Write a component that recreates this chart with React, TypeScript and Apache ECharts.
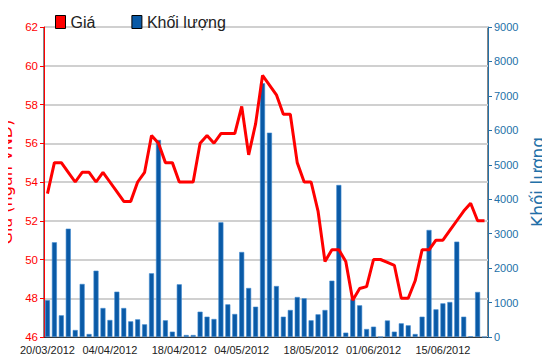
import React, { useEffect, useRef } from "react";
import * as echarts from "echarts";

const dates = [
  "20/03/2012", "21/03/2012", "22/03/2012", "23/03/2012", "26/03/2012", "27/03/2012", "28/03/2012", "29/03/2012", "30/03/2012", "04/04/2012",
  "05/04/2012", "06/04/2012", "09/04/2012", "10/04/2012", "11/04/2012", "12/04/2012", "13/04/2012", "16/04/2012", "17/04/2012", "18/04/2012",
  "19/04/2012", "20/04/2012", "23/04/2012", "24/04/2012", "25/04/2012", "26/04/2012", "27/04/2012", "03/05/2012", "04/05/2012", "07/05/2012",
  "08/05/2012", "09/05/2012", "10/05/2012", "11/05/2012", "14/05/2012", "15/05/2012", "16/05/2012", "17/05/2012", "18/05/2012", "21/05/2012",
  "22/05/2012", "23/05/2012", "24/05/2012", "25/05/2012", "28/05/2012", "29/05/2012", "31/05/2012", "01/06/2012", "04/06/2012", "05/06/2012",
  "06/06/2012", "07/06/2012", "08/06/2012", "11/06/2012", "12/06/2012", "13/06/2012", "14/06/2012", "15/06/2012", "18/06/2012", "19/06/2012",
  "20/06/2012", "21/06/2012", "22/06/2012", "25/06/2012",
];

const labelDates = ["20/03/2012", "04/04/2012", "18/04/2012", "04/05/2012", "18/05/2012", "01/06/2012", "15/06/2012"];

const prices = [
  53.4, 55.0, 55.0, 54.5, 54.0, 54.5, 54.5, 54.0, 54.5, 54.0,
  53.5, 53.0, 53.0, 54.0, 54.5, 56.4, 56.0, 55.0, 55.0, 54.0,
  54.0, 54.0, 56.0, 56.4, 56.0, 56.5, 56.5, 56.5, 57.9, 55.4,
  57.0, 59.5, 59.0, 58.5, 57.5, 57.5, 55.0, 54.0, 54.0, 52.5,
  49.9, 50.5, 50.5, 49.9, 47.9, 48.5, 48.6, 50.0, 50.0, 49.85,
  49.7, 48.0, 48.0, 48.9, 50.5, 50.5, 51.0, 51.0, 51.5, 52.0,
  52.5, 52.9, 52.0, 52.0,
];

const volumes = [
  1070, 2750, 630, 3145, 203, 1540, 87, 1925, 842, 494,
  1316, 842, 455, 513, 368, 1850, 5720, 485, 155, 1530,
  58, 58, 735, 590, 523, 3330, 948, 668, 2468, 1423,
  880, 7366, 5932, 1480, 590, 784, 1161, 1123, 485, 658,
  784, 1635, 4413, 126, 1094, 920, 232, 300, 0, 480,
  155, 397, 339, 87, 590, 3107, 803, 977, 1016, 2768,
  590, 20, 1307, 0,
];

const priceTicks = { min: 46, max: 62, interval: 2 };
const volumeTicks = { min: 0, max: 9000, interval: 1000 };

const seriesNames = ["Giá", "Khối lượng"];
const priceAxisTitle = "Giá (ngàn VND)";
const volumeAxisTitle = "Khối lượng";

const RED = "#ff0000";
const BLUE_AXIS = "#2370a8";
const BAR = "#0a5aa6";
const SANS = "'Liberation Sans', Arial, sans-serif";
const WIDE = "'DejaVu Sans', Verdana, sans-serif";

export default function App() {
  const ref = useRef<HTMLDivElement>(null);

  useEffect(() => {
    if (!ref.current) return;
    const chart = echarts.init(ref.current, undefined, { renderer: "svg" });
    const showLabel = (_i: number, v: string) => labelDates.includes(v);
    chart.setOption({
      animation: false,
      backgroundColor: "#ffffff",
      legend: {
        data: seriesNames,
        left: 50,
        top: 9,
        icon: "rect",
        itemWidth: 10,
        itemHeight: 13,
        itemGap: 36,
        itemStyle: { borderColor: "#000", borderWidth: 1 },
        textStyle: { fontSize: 16, color: "#222", fontFamily: SANS },
      },
      grid: {
        left: 44,
        right: 62,
        top: 27,
        bottom: 27,
        containLabel: false,
        outerBoundsMode: "none",
        show: true,
        borderColor: "#111",
        borderWidth: 1,
        backgroundColor: "transparent",
      },
      xAxis: {
        type: "category",
        data: dates,
        boundaryGap: true,
        axisLine: { lineStyle: { color: "#333", width: 1 } },
        axisTick: { alignWithLabel: true, interval: showLabel, length: 4, lineStyle: { color: "#333" } },
        axisLabel: {
          interval: showLabel,
          color: "#222",
          fontSize: 11,
          fontFamily: SANS,
          margin: 7,
        },
        splitLine: { show: false },
      },
      yAxis: [
        {
          type: "value",
          min: priceTicks.min,
          max: priceTicks.max,
          interval: priceTicks.interval,
          position: "left",
          name: priceAxisTitle,
          nameLocation: "middle",
          nameRotate: 90,
          nameGap: 12,
          nameTextStyle: { color: RED, fontSize: 16, fontFamily: WIDE },
          axisLine: { show: true, lineStyle: { color: RED, width: 1 } },
          axisTick: { show: true, length: 4, lineStyle: { color: RED } },
          axisLabel: { color: RED, fontSize: 11.5, fontFamily: SANS, margin: 6 },
          splitLine: { show: true, lineStyle: { color: "#d0d0d0", width: 2 } },
        },
        {
          type: "value",
          min: volumeTicks.min,
          max: volumeTicks.max,
          interval: volumeTicks.interval,
          position: "right",
          name: volumeAxisTitle,
          nameLocation: "middle",
          nameRotate: 90,
          nameGap: 30,
          nameTextStyle: { color: BLUE_AXIS, fontSize: 17, fontFamily: WIDE },
          axisLine: { show: true, lineStyle: { color: BLUE_AXIS, width: 1 } },
          axisTick: { show: true, length: 4, lineStyle: { color: BLUE_AXIS } },
          axisLabel: {
            color: BLUE_AXIS,
            fontSize: 11,
            fontFamily: SANS,
            margin: 6,
            formatter: (v: number) => String(v),
          },
          splitLine: { show: false },
        },
      ],
      series: [
        {
          name: seriesNames[0],
          type: "line",
          yAxisIndex: 0,
          data: prices,
          showSymbol: false,
          symbol: "none",
          lineStyle: { color: RED, width: 3 },
          itemStyle: { color: RED },
          z: 5,
        },
        {
          name: seriesNames[1],
          type: "bar",
          yAxisIndex: 1,
          data: volumes,
          barWidth: 5,
          itemStyle: { color: BAR, borderColor: "#3f8ad0", borderWidth: 0.6 },
          z: 2,
        },
      ],
    });
    return () => chart.dispose();
  }, []);

  return <div ref={ref} style={{ width: 550, height: 364, margin: -8 }} />;
}
